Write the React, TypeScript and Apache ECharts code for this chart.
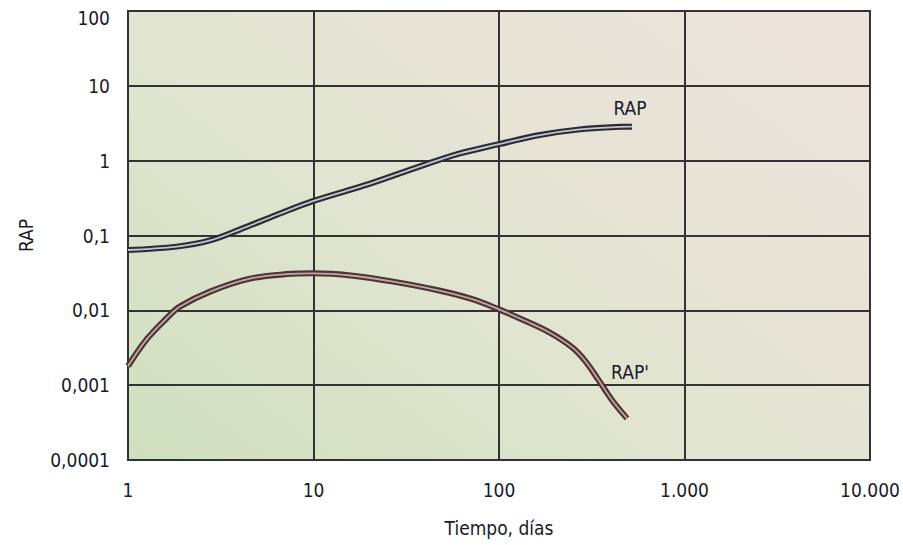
import React, { useEffect, useRef } from "react";
import * as echarts from "echarts";

// Tiempo (días) and RAP values
const rapX = [1, 1.83, 2.77, 4, 6.3, 10, 20, 37.5, 61.6, 100, 166, 273, 449, 521];
const rapY = [0.064, 0.071, 0.086, 0.12, 0.188, 0.29, 0.49, 0.84, 1.25, 1.66, 2.2, 2.62, 2.83, 2.85];

// Tiempo (días) and RAP' values
const rapdX = [1, 1.26, 1.62, 1.9, 2.77, 4.54, 7.18, 10, 16.3, 26.9, 47.6, 71.8, 100, 139, 186, 248, 292, 345, 407, 490];
const rapdY = [0.0018, 0.0041, 0.0079, 0.0112, 0.0178, 0.0265, 0.0305, 0.0312, 0.029, 0.0242, 0.0184, 0.0141, 0.0103, 0.0072, 0.0051, 0.0032, 0.0021, 0.00116, 0.00063, 0.00036];

const xTickLabels = ["1", "10", "100", "1.000", "10.000"]; // 10^0 .. 10^4
const yTickLabels = ["0,0001", "0,001", "0,01", "0,1", "1", "10", "100"]; // 10^-4 .. 10^2

const seriesNames = ["RAP", "RAP'"];

const FONT = "'Liberation Sans Narrow', 'DejaVu Sans Condensed', 'Liberation Sans', sans-serif";
const TXT = "#1a1a28";

export default function App() {
  const ref = useRef<HTMLDivElement>(null);

  useEffect(() => {
    if (!ref.current) return;
    const chart = echarts.init(ref.current, undefined, { renderer: "svg" });
    const pair = (xs: number[], ys: number[]) => xs.map((x, i) => [x, ys[i]]);
    const rapData = pair(rapX, rapY);
    const rapdData = pair(rapdX, rapdY);

    const mk = (name: string, data: number[][], color: string, width: number, z: number) => ({
      name,
      type: "line",
      data,
      smooth: 0.35,
      showSymbol: false,
      symbol: "none",
      z,
      lineStyle: { color, width, cap: "butt", join: "round" },
    });

    chart.setOption({
      animation: false,
      grid: {
        left: 128,
        right: 33,
        top: 11,
        bottom: 85,
        show: true,
        borderColor: "#333333",
        borderWidth: 2,
        backgroundColor: new echarts.graphic.LinearGradient(0, 1, 1, 0.2, [
          { offset: 0, color: "#cfe0be" },
          { offset: 0.45, color: "#e0e4d0" },
          { offset: 1, color: "#ece4dc" },
        ]),
      },
      xAxis: {
        type: "log",
        logBase: 10,
        min: 1,
        max: 10000,
        name: "Tiempo, días",
        nameLocation: "middle",
        nameGap: 58,
        nameTextStyle: { fontFamily: FONT, fontSize: 19, color: TXT },
        axisLine: { show: false },
        axisTick: { show: false },
        axisLabel: {
          margin: 20,
          fontFamily: FONT,
          fontSize: 19,
          color: TXT,
          formatter: (v: number) => xTickLabels[Math.round(Math.log10(v))] ?? "",
        },
        splitLine: { show: true, lineStyle: { color: "#333333", width: 2 } },
      },
      yAxis: {
        type: "log",
        logBase: 10,
        min: 0.0001,
        max: 100,
        name: "RAP",
        nameLocation: "middle",
        nameGap: 93,
        nameRotate: 90,
        nameTextStyle: { fontFamily: FONT, fontSize: 19, color: TXT },
        axisLine: { show: false },
        axisTick: { show: false },
        axisLabel: {
          margin: 18,
          fontFamily: FONT,
          fontSize: 19,
          color: TXT,
          formatter: (v: number) => {
            const k = Math.round(Math.log10(v)) + 4;
            const t = yTickLabels[k] ?? "";
            return k === yTickLabels.length - 1 ? "{top|" + t + "}" : t;
          },
          rich: {
            top: { fontFamily: FONT, fontSize: 19, color: TXT, padding: [14, 0, 0, 0] },
          },
        },
        splitLine: { show: true, lineStyle: { color: "#333333", width: 2 } },
      },
      series: [
        mk(seriesNames[0], rapData, "#2b2b33", 6, 3),
        mk(seriesNames[0] + " inner", rapData, "#c2c5d0", 1.8, 4),
        mk(seriesNames[1], rapdData, "#4a3434", 6, 3),
        mk(seriesNames[1] + " inner", rapdData, "#c6a4a4", 1.8, 4),
      ],
      graphic: [
        {
          type: "text",
          x: 630,
          y: 108,
          style: { text: seriesNames[0], fontFamily: FONT, fontSize: 19, fill: TXT, align: "center", verticalAlign: "middle" },
          z: 10,
        },
        {
          type: "text",
          x: 630,
          y: 372,
          style: { text: seriesNames[1], fontFamily: FONT, fontSize: 19, fill: TXT, align: "center", verticalAlign: "middle" },
          z: 10,
        },
      ],
    });
    return () => chart.dispose();
  }, []);

  return <div ref={ref} style={{ width: 903, height: 545, position: "absolute", left: 0, top: 0 }} />;
}
